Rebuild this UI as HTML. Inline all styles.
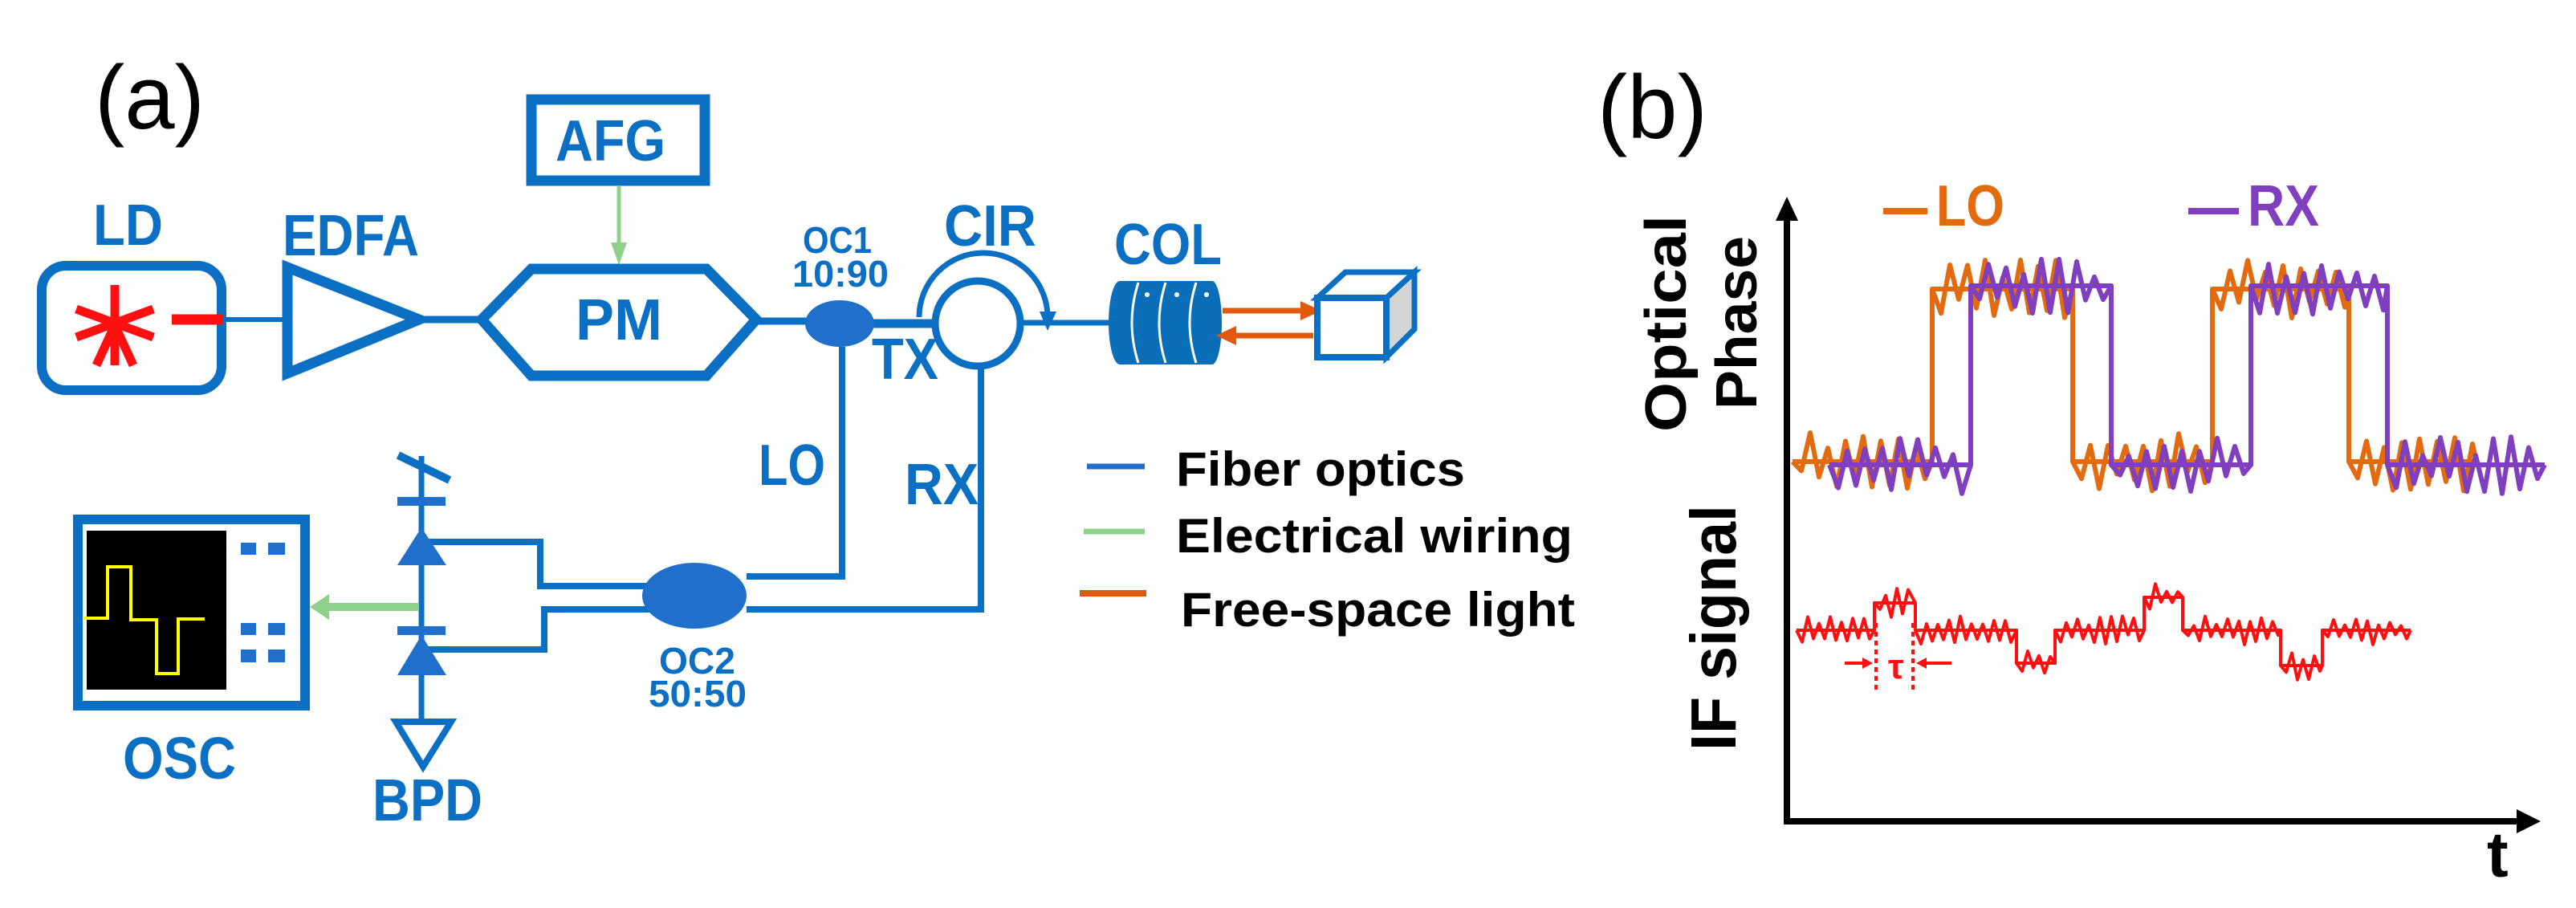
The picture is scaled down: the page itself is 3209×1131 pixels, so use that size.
<!DOCTYPE html>
<html><head><meta charset="utf-8"><style>
html,body{margin:0;padding:0;background:#fff;}
svg{display:block;}
.b{font-family:"Liberation Sans",sans-serif;font-weight:bold;fill:#0b6fc4;}
.k{font-family:"Liberation Sans",sans-serif;font-weight:bold;fill:#000;}
</style></head><body>
<svg id="s" width="3209" height="1131" viewBox="0 0 3209 1131" xmlns="http://www.w3.org/2000/svg">
<g fill="none" stroke="#0b6fc4" stroke-linejoin="miter">
<!-- labels (a) (b) -->
<text x="118" y="160" font-family="Liberation Sans,sans-serif" font-size="112" fill="#000" stroke="none">(a)</text>
<text x="1990" y="172" font-family="Liberation Sans,sans-serif" font-size="112" fill="#000" stroke="none">(b)</text>

<!-- AFG -->
<rect x="662" y="124" width="216" height="101" stroke-width="13"/>
<text class="b" x="692" y="200" font-size="72" textLength="137" lengthAdjust="spacingAndGlyphs" stroke="none">AFG</text>
<line x1="771" y1="231" x2="771" y2="310" stroke="#8fd08a" stroke-width="5"/>
<polygon points="761,302 781,302 771,330" fill="#8fd08a" stroke="none"/>

<!-- LD -->
<text class="b" x="116" y="305" font-size="72" textLength="87" lengthAdjust="spacingAndGlyphs" stroke="none">LD</text>
<rect x="52" y="331" width="224" height="155" rx="30" stroke-width="12"/>
<g stroke="#ff1010" stroke-width="11">
<line x1="143" y1="355" x2="143" y2="455"/>
<line x1="95" y1="420" x2="191" y2="385"/>
<line x1="95" y1="385" x2="191" y2="420"/>
<line x1="143" y1="405" x2="120" y2="455"/>
<line x1="143" y1="405" x2="166" y2="455"/>
<line x1="214" y1="398" x2="278" y2="398" stroke-width="13"/>
</g>
<line x1="278" y1="398" x2="352" y2="398" stroke-width="6"/>
<!-- EDFA -->
<text class="b" x="352" y="318" font-size="72" textLength="170" lengthAdjust="spacingAndGlyphs" stroke="none">EDFA</text>
<polygon points="358,333 358,465 522,398" stroke-width="13"/>
<line x1="522" y1="398" x2="600" y2="398" stroke-width="9"/>
<!-- PM -->
<polygon points="600,398 662,335 880,335 942,398 880,468 662,468" stroke-width="13"/>
<text class="b" x="717" y="423" font-size="72" textLength="108" lengthAdjust="spacingAndGlyphs" stroke="none">PM</text>
<line x1="942" y1="400" x2="1010" y2="400" stroke-width="9"/>
<!-- OC1 -->
<text class="b" x="1000" y="315" font-size="46" textLength="86" lengthAdjust="spacingAndGlyphs" stroke="none">OC1</text>
<text class="b" x="987" y="357" font-size="46" textLength="120" lengthAdjust="spacingAndGlyphs" stroke="none">10:90</text>
<line x1="1085" y1="403" x2="1166" y2="403" stroke-width="11"/>
<ellipse cx="1046" cy="403" rx="43" ry="29" fill="#1f6fcb" stroke="none"/>
<text class="b" x="1086" y="472" font-size="72" textLength="83" lengthAdjust="spacingAndGlyphs" stroke="none">TX</text>
<!-- CIR -->
<text class="b" x="1176" y="306" font-size="72" textLength="115" lengthAdjust="spacingAndGlyphs" stroke="none">CIR</text>
<path d="M1145,395 A80,80 0 0 1 1305,395" stroke-width="7"/>
<polygon points="1295,388 1316,388 1305,412" fill="#0b6fc4" stroke="none"/>
<circle cx="1218" cy="403" r="53" fill="#fff" stroke-width="9"/>
<line x1="1271" y1="402" x2="1400" y2="402" stroke-width="7"/>
<!-- COL -->
<text class="b" x="1388" y="329" font-size="72" textLength="134" lengthAdjust="spacingAndGlyphs" stroke="none">COL</text>
<rect x="1395" y="350" width="115" height="104" fill="#0a6fb8" stroke="none"/>
<ellipse cx="1395" cy="402" rx="14" ry="52" fill="#0a6fb8" stroke="none"/>
<ellipse cx="1510" cy="402" rx="12" ry="52" fill="#0a6fb8" stroke="none"/>
<g stroke="#fff" stroke-width="3">
<path d="M1418,352 Q1402,402 1418,452"/>
<path d="M1452,352 Q1436,402 1452,452"/>
<path d="M1490,352 Q1474,402 1490,452"/>
</g>
<g fill="#fff" stroke="none"><circle cx="1429" cy="367" r="3"/><circle cx="1466" cy="367" r="3"/><circle cx="1503" cy="367" r="3"/></g>
<!-- free-space arrows -->
<g stroke="#e0590f" stroke-width="7">
<line x1="1523" y1="387" x2="1628" y2="387"/>
<line x1="1636" y1="418" x2="1530" y2="418"/>
</g>
<polygon points="1620,375 1646,387 1620,399" fill="#e0590f" stroke="none"/>
<polygon points="1540,406 1515,418 1540,430" fill="#e0590f" stroke="none"/>
<!-- cube -->
<polygon points="1727,371 1762,339 1762,410 1727,445" fill="#d4d4d4" stroke-width="7"/>
<polygon points="1641,371 1676,339 1762,339 1727,371" fill="#fff" stroke-width="7"/>
<rect x="1641" y="371" width="86" height="74" fill="#fff" stroke-width="8"/>

<!-- LO / RX lines -->
<polyline points="1049,432 1049,718 930,718" stroke-width="8"/>
<polyline points="1222,456 1222,759 930,759" stroke-width="8"/>
<text class="b" x="945" y="604" font-size="72" textLength="83" lengthAdjust="spacingAndGlyphs" stroke="none">LO</text>
<text class="b" x="1127" y="628" font-size="72" textLength="92" lengthAdjust="spacingAndGlyphs" stroke="none">RX</text>
<!-- OC2 -->
<polyline points="525,675 673,675 673,730 810,730" stroke-width="8"/>
<polyline points="525,809 678,809 678,759 810,759" stroke-width="8"/>
<ellipse cx="865" cy="742" rx="65" ry="41" fill="#1f6fcb" stroke="none"/>
<text class="b" x="821" y="839" font-size="46" textLength="95" lengthAdjust="spacingAndGlyphs" stroke="none">OC2</text>
<text class="b" x="808" y="880" font-size="46" textLength="122" lengthAdjust="spacingAndGlyphs" stroke="none">50:50</text>

<!-- BPD -->
<line x1="525" y1="568" x2="525" y2="896" stroke-width="7"/>
<line x1="496" y1="567" x2="560" y2="598" stroke-width="10"/>
<rect x="495" y="619" width="60" height="11" fill="#1f6fcb" stroke="none"/>
<polygon points="525,657 495,704 556,704" fill="#1f6fcb" stroke="none"/>
<rect x="495" y="780" width="60" height="11" fill="#1f6fcb" stroke="none"/>
<polygon points="525,791 495,841 556,841" fill="#1f6fcb" stroke="none"/>
<polygon points="493,899 562,899 527,955" fill="#fff" stroke-width="8"/>
<text class="b" x="464" y="1022" font-size="74" textLength="137" lengthAdjust="spacingAndGlyphs" stroke="none">BPD</text>
<!-- green to OSC -->
<line x1="522" y1="756" x2="405" y2="756" stroke="#8fd08a" stroke-width="10"/>
<polygon points="410,740 386,756 410,772" fill="#8fd08a" stroke="none"/>
<!-- OSC -->
<rect x="97" y="647" width="283" height="232" stroke-width="12"/>
<rect x="108" y="661" width="174" height="198" fill="#000" stroke="none"/>
<polyline points="104,770 134,770 134,706 163,706 163,772 195,772 195,839 222,839 222,771 255,771" stroke="#ffff00" stroke-width="4"/>
<g fill="#1f6fcb" stroke="none">
<rect x="300" y="676" width="19" height="15"/><rect x="334" y="676" width="21" height="15"/>
<rect x="300" y="776" width="19" height="15"/><rect x="334" y="776" width="21" height="15"/>
<rect x="300" y="809" width="19" height="16"/><rect x="334" y="809" width="21" height="16"/>
</g>
<text class="b" x="153" y="970" font-size="74" textLength="141" lengthAdjust="spacingAndGlyphs" stroke="none">OSC</text>

<!-- legend -->
<line x1="1354" y1="581" x2="1426" y2="581" stroke="#1f6fcb" stroke-width="7"/>
<line x1="1350" y1="662" x2="1426" y2="662" stroke="#8fd08a" stroke-width="7"/>
<line x1="1345" y1="739" x2="1428" y2="739" stroke="#e0590f" stroke-width="8"/>
<text class="k" x="1465" y="605" font-size="60" textLength="360" lengthAdjust="spacingAndGlyphs" stroke="none">Fiber optics</text>
<text class="k" x="1465" y="688" font-size="60" textLength="494" lengthAdjust="spacingAndGlyphs" stroke="none">Electrical wiring</text>
<text class="k" x="1471" y="780" font-size="60" textLength="491" lengthAdjust="spacingAndGlyphs" stroke="none">Free-space light</text>
</g>

<!-- panel b -->
<g stroke="#000" stroke-width="8" fill="none">
<line x1="2226" y1="265" x2="2226" y2="1023"/>
<line x1="2222" y1="1023" x2="3140" y2="1023"/>
</g>
<polygon points="2212,275 2226,245 2240,275" fill="#000"/>
<polygon points="3135,1008 3165,1023 3135,1038" fill="#000"/>
<text class="k" x="3098" y="1092" font-size="80">t</text>
<text class="k" font-size="72" transform="translate(2100,403) rotate(-90)" text-anchor="middle" textLength="270" lengthAdjust="spacingAndGlyphs">Optical</text>
<text class="k" font-size="72" transform="translate(2188,402) rotate(-90)" text-anchor="middle" textLength="216" lengthAdjust="spacingAndGlyphs">Phase</text>
<text class="k" font-size="80" transform="translate(2162,782) rotate(-90)" text-anchor="middle" textLength="306" lengthAdjust="spacingAndGlyphs">IF signal</text>
<line x1="2346" y1="263" x2="2401" y2="263" stroke="#e26b10" stroke-width="8"/>
<text x="2412" y="281" font-family="Liberation Sans,sans-serif" font-weight="bold" font-size="72" fill="#e26b10" textLength="85" lengthAdjust="spacingAndGlyphs">LO</text>
<line x1="2726" y1="263" x2="2789" y2="263" stroke="#7f3fbf" stroke-width="8"/>
<text x="2800" y="281" font-family="Liberation Sans,sans-serif" font-weight="bold" font-size="72" fill="#7f3fbf" textLength="89" lengthAdjust="spacingAndGlyphs">RX</text>
<g id="waves" fill="none" stroke-linejoin="round"></g>
<!-- tau -->
<g stroke="#ff1010" stroke-width="4" fill="none">
<line x1="2337" y1="776" x2="2337" y2="863" stroke-dasharray="6,5"/>
<line x1="2383" y1="776" x2="2383" y2="863" stroke-dasharray="6,5"/>
<line x1="2298" y1="826" x2="2322" y2="826"/>
<line x1="2431" y1="826" x2="2398" y2="826"/>
</g>
<polygon points="2320,819 2333,826 2320,833" fill="#ff1010"/>
<polygon points="2400,819 2387,826 2400,833" fill="#ff1010"/>
<text x="2352" y="845" font-family="Liberation Sans,sans-serif" font-weight="bold" font-size="44" fill="#ff1010">τ</text>
</svg>
<script>
(function(){
var seed=7;function r(){seed=(seed*16807)%2147483647;return (seed-1)/2147483646;}
function wave(levels,A,step,color,w){
  var g=document.getElementById('waves');
  var d='',flat='';
  levels.forEach(function(l,i){
    var x0=l[0],x1=l[1],y=l[2];
    if(i==0){d+='M'+x0+','+y;flat+='M'+x0+','+y;}else{d+=' L'+x0+','+y;flat+=' L'+x0+','+y;}
    var s=1;
    for(var x=x0+step;x<x1-2;x+=step){d+=' L'+x.toFixed(1)+','+(y+s*(0.3+0.7*r())*A).toFixed(1);s=-s;}
    d+=' L'+x1+','+y;flat+=' L'+x1+','+y;
  });
  [flat,d].forEach(function(p){
    var e=document.createElementNS('http://www.w3.org/2000/svg','path');
    e.setAttribute('d',p);e.setAttribute('stroke',color);e.setAttribute('stroke-width',w);g.appendChild(e);
  });
}
wave([[2233,2407,575],[2407,2582,360],[2582,2756,575],[2756,2926,360],[2926,3085,575]],38,11,'#e26b10',6);
wave([[2279,2455,579],[2455,2630,356],[2630,2804,579],[2804,2974,356],[2974,3170,579]],36,11,'#7f3fbf',6);
wave([[2238,2335,785],[2335,2386,751],[2386,2512,785],[2512,2560,826],[2560,2671,785],[2671,2719,744],[2719,2841,785],[2841,2893,829],[2893,3003,785]],18,7,'#ff1010',4);
})();
</script>
</body></html>
